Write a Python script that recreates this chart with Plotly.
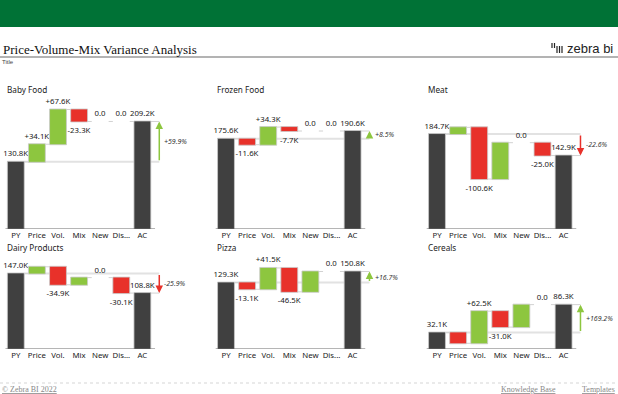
import plotly.graph_objects as go

# ---------------- data ----------------
categories = ["PY", "Price", "Vol.", "Mix", "New", "Dis...", "AC"]
panel_titles = ["Baby Food", "Frozen Food", "Meat", "Dairy Products", "Pizza", "Cereals"]

py_values = [130.8, 175.6, 184.7, 147.0, 129.3, 32.1]
price_delta = [34.1, -11.6, 13.1, 12.9, -13.1, -21.0]
volume_delta = [67.6, 34.3, -100.6, -34.9, 41.5, 62.5]
mix_delta = [-23.3, -7.7, 70.7, 13.9, -46.5, -31.0]
new_delta = [0.0, 0.0, 0.0, 0.0, 39.6, 43.7]
disc_delta = [0.0, 0.0, -25.0, -30.1, 0.0, 0.0]
ac_values = [209.2, 190.6, 142.9, 108.8, 150.8, 86.3]
pct_change = [59.9, 8.5, -22.6, -25.9, 16.7, 169.2]
hidden_labels = [[], [], [1, 3], [1, 3], [4], [1, 4]]

# ---------------- styling ----------------
W, H = 618, 394
GREEN = "#8DC63F"
RED = "#E8312A"
DARK = "#404040"
OUTLINE = "#c9c9c9"
LABEL_FONT = "Noto Sans"

col_centers = [15.8, 226.0, 437.0]   # px centre of PY bar in each column
step = 21.1                           # px per category
baselines = [229.0, 349.0]           # px baseline of each row
k = 0.514                            # px per K
x_lo, x_hi = -0.5, 8.0
y_hi = 240.0


def px_x(p):
    return p / W


def px_y(p):
    return 1 - p / H


def fmt_total(v):
    return f"{v:.1f}K"


def fmt_delta(v):
    if abs(v) < 1e-9:
        return "0.0"
    return f"{v:+.1f}K"


fig = go.Figure()
shapes = []
annotations = []

for i in range(6):
    row, col = divmod(i, 3)
    n = i + 1
    xa = "x" if n == 1 else f"x{n}"
    ya = "y" if n == 1 else f"y{n}"
    xl = "xaxis" if n == 1 else f"xaxis{n}"
    yl = "yaxis" if n == 1 else f"yaxis{n}"

    deltas = [price_delta[i], volume_delta[i], mix_delta[i], new_delta[i], disc_delta[i]]
    yvals = [py_values[i]] + deltas + [ac_values[i]]
    texts = [fmt_total(py_values[i])] + [fmt_delta(d) for d in deltas] + [fmt_total(ac_values[i])]
    for h in hidden_labels[i]:
        texts[h] = ""

    fig.add_trace(go.Waterfall(
        x=list(range(len(categories))),
        y=yvals,
        measure=["absolute"] + ["relative"] * 5 + ["total"],
        text=texts,
        textposition="outside",
        constraintext="none",
        cliponaxis=False,
        textfont=dict(family=LABEL_FONT, size=7.8, color="#222"),
        width=0.8,
        increasing=dict(marker=dict(color=GREEN, line=dict(color=OUTLINE, width=0.8))),
        decreasing=dict(marker=dict(color=RED, line=dict(color=OUTLINE, width=0.8))),
        totals=dict(marker=dict(color=DARK, line=dict(color=OUTLINE, width=0.8))),
        connector=dict(line=dict(color="#d2d2d2", width=1)),
        xaxis=xa, yaxis=ya, showlegend=False, hoverinfo="skip",
    ))

    c = col_centers[col]
    b = baselines[row]
    fig.layout[xl] = dict(
        domain=[px_x(c + x_lo * step), px_x(c + x_hi * step)],
        range=[x_lo, x_hi], anchor=ya, showgrid=False, zeroline=False, showline=False,
        tickmode="array", tickvals=list(range(len(categories))), ticktext=categories,
        ticks="", tickangle=0, tickfont=dict(family=LABEL_FONT, size=7.8, color="#222"),
    )
    fig.layout[yl] = dict(
        domain=[px_y(b), px_y(b - y_hi * k)],
        range=[0, y_hi], anchor=xa, visible=False,
    )

    # baseline
    shapes.append(dict(type="line", xref=xa, yref=ya, x0=-0.5, x1=6.6, y0=0, y1=0,
                       line=dict(color="#6b6b6b", width=1)))
    # reference lines PY / AC to arrow
    ax_x = 6.8
    shapes.append(dict(type="line", xref=xa, yref=ya, x0=0.4, x1=ax_x, y0=py_values[i], y1=py_values[i],
                       line=dict(color="#e2e2e2", width=2), layer="below"))
    shapes.append(dict(type="line", xref=xa, yref=ya, x0=6.4, x1=ax_x, y0=ac_values[i], y1=ac_values[i],
                       line=dict(color="#d2d2d2", width=1), layer="below"))
    up = ac_values[i] >= py_values[i]
    acol = GREEN if up else RED
    annotations.append(dict(x=ax_x, y=ac_values[i], ax=ax_x, ay=py_values[i], xref=xa, yref=ya,
                            axref=xa, ayref=ya, text="", showarrow=True, arrowhead=2,
                            arrowsize=1, arrowwidth=1.5, arrowcolor=acol, standoff=0, startstandoff=0))
    annotations.append(dict(x=6.95, y=(py_values[i] + ac_values[i]) / 2, xref=xa, yref=ya,
                            text=f"<i>{pct_change[i]:+.1f}%</i>", showarrow=False, xanchor="left",
                            yanchor="middle", font=dict(family=LABEL_FONT, size=7, color="#333")))
    # panel title
    annotations.append(dict(x=px_x(c - 11.0), y=px_y([89.5, 247.0][row]), xref="paper", yref="paper",
                            text=panel_titles[i], showarrow=False, xanchor="left", yanchor="middle",
                            font=dict(family=LABEL_FONT, size=8.2, color="#222")))

# ---------------- page decorations ----------------
shapes.append(dict(type="rect", xref="paper", yref="paper", x0=0, x1=1, y0=px_y(27), y1=1,
                   fillcolor="#007236", line=dict(width=0), layer="below"))
shapes.append(dict(type="line", xref="paper", yref="paper", x0=0, x1=1, y0=px_y(57), y1=px_y(57),
                   line=dict(color="#9a9a9a", width=1.5)))
shapes.append(dict(type="line", xref="paper", yref="paper", x0=0, x1=1, y0=px_y(383), y1=px_y(383),
                   line=dict(color="#d5d5d5", width=1, dash="dot")))
# logo bars
for (x0, y0, y1) in [(552, 43, 48), (554.5, 43, 48), (557, 46, 53), (559.5, 46, 53), (562, 46, 53)]:
    shapes.append(dict(type="line", xref="paper", yref="paper", x0=px_x(x0), x1=px_x(x0),
                       y0=px_y(y0), y1=px_y(y1), line=dict(color="#222", width=1.2)))

annotations += [
    dict(x=px_x(1), y=px_y(49.5), xref="paper", yref="paper", text="Price-Volume-Mix Variance Analysis",
         showarrow=False, xanchor="left", yanchor="middle",
         font=dict(family="Liberation Serif", size=13, color="#111")),
    dict(x=px_x(0), y=px_y(62.5), xref="paper", yref="paper", text="Title", showarrow=False,
         xanchor="left", yanchor="middle", font=dict(family="Liberation Sans", size=6, color="#444")),
    dict(x=px_x(565), y=px_y(48.5), xref="paper", yref="paper", text="zebra bi", showarrow=False,
         xanchor="left", yanchor="middle", font=dict(family="Liberation Sans", size=13, color="#222")),
    dict(x=px_x(0), y=px_y(389), xref="paper", yref="paper", text="<u>© Zebra BI 2022</u>",
         showarrow=False, xanchor="left", yanchor="middle",
         font=dict(family="Liberation Serif", size=8, color="#888")),
    dict(x=px_x(499), y=px_y(389), xref="paper", yref="paper", text="<u>Knowledge Base</u>",
         showarrow=False, xanchor="left", yanchor="middle",
         font=dict(family="Liberation Serif", size=8, color="#888")),
    dict(x=px_x(617), y=px_y(389), xref="paper", yref="paper", text="<u>Templates</u>",
         showarrow=False, xanchor="right", yanchor="middle",
         font=dict(family="Liberation Serif", size=8, color="#888")),
]

fig.update_layout(
    width=W, height=H, margin=dict(l=0, r=0, t=0, b=0),
    paper_bgcolor="white", plot_bgcolor="rgba(0,0,0,0)",
    shapes=shapes, annotations=annotations, showlegend=False,
)

fig.write_html("out.html", config={"displayModeBar": False},
               post_script="document.body.style.margin='0';document.body.style.overflow='hidden';")
